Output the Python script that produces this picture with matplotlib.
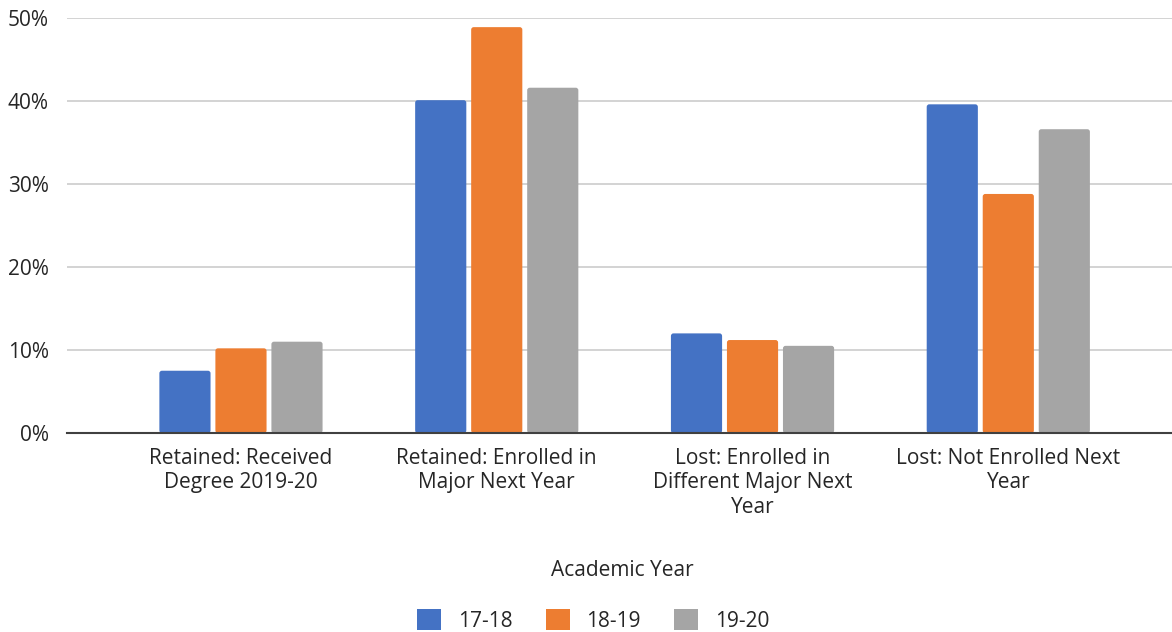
import matplotlib
matplotlib.use("Agg")
import matplotlib.pyplot as plt
import numpy as np
from matplotlib.patches import FancyBboxPatch, Patch
from matplotlib.ticker import PercentFormatter

categories = [
    "Retained: Received\nDegree 2019-20",
    "Retained: Enrolled in\nMajor Next Year",
    "Lost: Enrolled in\nDifferent Major Next\nYear",
    "Lost: Not Enrolled Next\nYear",
]
series_names = ["17-18", "18-19", "19-20"]
values_17_18 = [7.5, 40.1, 12.0, 39.6]
values_18_19 = [10.2, 48.9, 11.2, 28.8]
values_19_20 = [11.0, 41.6, 10.5, 36.6]
y_ticks = [0, 10, 20, 30, 40, 50]

colors = ["#4472C4", "#ED7D31", "#A5A5A5"]
series = [values_17_18, values_18_19, values_19_20]

plt.rcParams["font.family"] = ["Open Sans", "DejaVu Sans"]
text_color = "#262626"
fs = 15

fig = plt.figure(figsize=(11.72, 6.32), dpi=100)
ax = fig.add_axes([0.0572, 0.3149, 0.9428, 0.6566])

x = np.arange(len(categories))
width = 0.2
step = 0.219
# y-units per pixel divided by x-units per pixel, so corners stay circular
aspect = (50 / 415) / (4.32 / 1105)
for i, (vals, c) in enumerate(zip(series, colors)):
    bars = ax.bar(x + (i - 1) * step, vals, width, color=c, zorder=3)
    for b in bars:
        b.set_visible(False)
        ax.add_patch(FancyBboxPatch(
            (b.get_x(), b.get_y()), b.get_width(), b.get_height(),
            boxstyle="round,pad=0,rounding_size=0.01",
            mutation_aspect=aspect,
            facecolor=c, edgecolor="none", zorder=3,
        ))

ax.set_xlim(-0.68, 3.64)
ax.set_ylim(0, 50)
ax.set_yticks(y_ticks)
ax.yaxis.set_major_formatter(PercentFormatter(decimals=0))
ax.set_xticks(x)
ax.set_xticklabels(categories, linespacing=1.2)
ax.tick_params(axis="both", length=0, labelsize=fs, colors=text_color)
ax.tick_params(axis="y", pad=13)
ax.tick_params(axis="x", pad=11)

ax.grid(axis="y", color="#D0D0D0", linewidth=1.3, zorder=0)
for s in ["top", "right", "left"]:
    ax.spines[s].set_visible(False)
ax.spines["bottom"].set_color("#404040")
ax.spines["bottom"].set_linewidth(1.5)
ax.spines["bottom"].set_zorder(4)

fig.text(0.531, 0.098, "Academic Year", ha="center", va="center",
         fontsize=fs, color=text_color)

handles = [Patch(facecolor=c, edgecolor="none") for c in colors]
fig.legend(handles, series_names, loc="center", bbox_to_anchor=(0.506, 0.018),
           ncol=3, frameon=False, fontsize=fs, handlelength=1.15, handleheight=1.15,
           columnspacing=1.6, handletextpad=0.8, labelcolor=text_color)

fig.savefig("out.png", dpi=100)
